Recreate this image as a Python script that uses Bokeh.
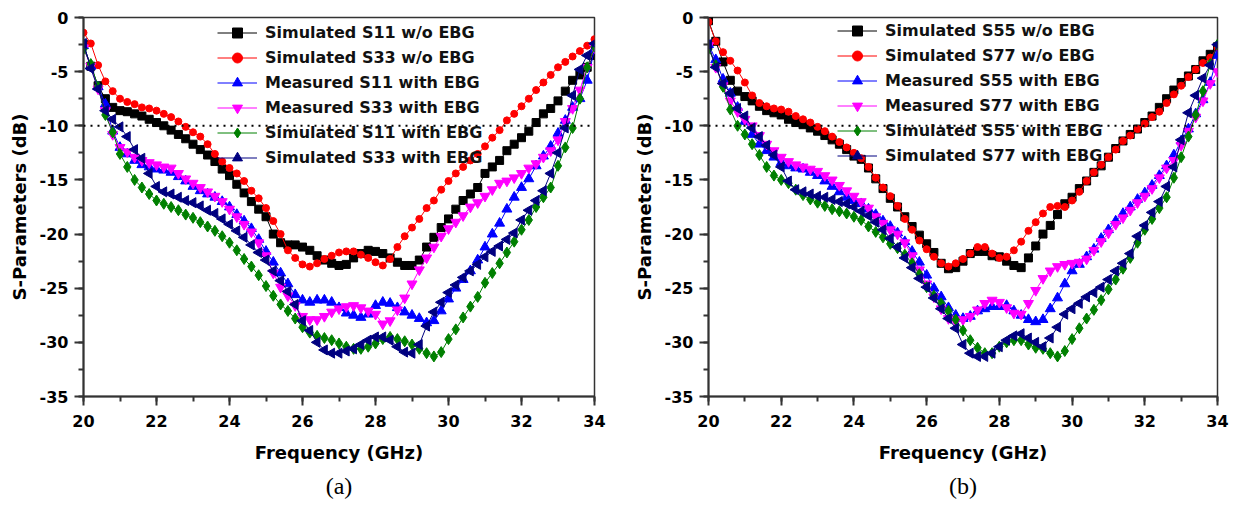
import math
from bokeh.plotting import figure
from bokeh.layouts import row
from bokeh.models import Range1d, SingleIntervalTicker, Span, Title, CustomJSTickFormatter
from bokeh.embed import file_html
from bokeh.resources import INLINE

freq = [20.0, 20.2, 20.4, 20.6, 20.8, 21.0, 21.2, 21.4, 21.6, 21.8,
        22.0, 22.2, 22.4, 22.6, 22.8, 23.0, 23.2, 23.4, 23.6, 23.8,
        24.0, 24.2, 24.4, 24.6, 24.8, 25.0, 25.2, 25.4, 25.6, 25.8,
        26.0, 26.2, 26.4, 26.6, 26.8, 27.0, 27.2, 27.4, 27.6, 27.8,
        28.0, 28.2, 28.4, 28.6, 28.8, 29.0, 29.2, 29.4, 29.6, 29.8,
        30.0, 30.2, 30.4, 30.6, 30.8, 31.0, 31.2, 31.4, 31.6, 31.8,
        32.0, 32.2, 32.4, 32.6, 32.8, 33.0, 33.2, 33.4, 33.6, 33.8,
        34.0]

# ---------------- panel (a) ----------------
a_sim_s11_wo = [-2.5, -4.5, -6.3, -7.5, -8.3, -8.6, -8.7, -8.9, -9.1, -9.4,
                -9.7, -10.0, -10.4, -10.8, -11.2, -11.7, -12.2, -12.7, -13.3, -14.0,
                -14.6, -15.4, -16.2, -17.0, -17.7, -18.4, -20.0, -20.8, -21.0, -21.0,
                -21.2, -21.5, -22.0, -22.4, -22.7, -22.9, -22.8, -22.2, -21.8, -21.5,
                -21.6, -21.8, -22.2, -22.6, -22.9, -22.9, -22.4, -21.2, -20.3, -19.4,
                -18.6, -17.7, -16.9, -16.3, -15.7, -14.4, -13.8, -13.2, -12.3, -11.7,
                -11.1, -10.5, -9.7, -8.9, -8.4, -7.7, -6.8, -5.8, -5.3, -4.6,
                -3.5]
a_sim_s33_wo = [-1.4, -2.4, -4.4, -5.9, -6.8, -7.5, -7.8, -8.0, -8.3, -8.4,
                -8.6, -8.9, -9.2, -9.6, -10.1, -10.6, -11.0, -11.7, -12.6, -13.3,
                -13.9, -14.4, -15.1, -16.0, -16.7, -17.6, -18.8, -20.0, -21.5, -22.2,
                -22.8, -23.0, -22.7, -22.3, -22.0, -21.7, -21.6, -21.6, -21.9, -22.2,
                -22.6, -22.9, -22.3, -21.2, -20.2, -19.4, -18.6, -17.6, -16.9, -15.9,
                -15.1, -14.4, -13.8, -13.2, -12.6, -11.9, -11.1, -10.4, -9.5, -8.9,
                -8.2, -7.5, -6.7, -6.0, -5.3, -4.6, -4.1, -3.6, -3.1, -2.6,
                -2.0]
a_meas_s11_ebg = [-2.6, -4.5, -6.4, -8.0, -10.5, -12.0, -12.6, -13.2, -13.6, -13.8,
                  -14.0, -14.1, -14.3, -14.7, -15.1, -15.6, -16.0, -16.3, -16.6, -17.0,
                  -17.5, -18.2, -18.8, -19.5, -20.5, -21.6, -22.6, -23.6, -24.6, -25.6,
                  -26.1, -26.3, -26.1, -26.1, -26.3, -26.8, -27.3, -27.5, -27.7, -27.4,
                  -26.6, -26.3, -26.4, -26.8, -27.2, -27.5, -27.8, -28.2, -28.0, -27.1,
                  -26.0, -25.0, -24.2, -23.4, -22.4, -21.2, -20.0, -19.0, -17.7, -16.6,
                  -15.7, -14.9, -13.7, -12.8, -11.9, -10.7, -9.5, -8.3, -7.5, -5.8,
                  -3.0]
a_meas_s33_ebg = [-2.8, -4.5, -6.6, -8.6, -10.8, -12.0, -12.4, -12.9, -13.2, -13.4,
                  -13.6, -13.8, -13.9, -14.4, -14.9, -15.3, -15.7, -16.1, -16.5, -17.0,
                  -17.7, -18.4, -19.1, -19.8, -20.8, -22.0, -23.6, -24.9, -25.7, -26.6,
                  -27.6, -27.9, -27.9, -27.6, -27.2, -26.9, -26.7, -26.6, -26.8, -27.1,
                  -27.4, -28.3, -28.0, -27.0, -25.9, -24.6, -23.3, -22.2, -21.2, -20.2,
                  -19.5, -18.9, -18.3, -17.5, -17.1, -16.5, -15.9, -15.3, -15.1, -14.8,
                  -14.4, -13.9, -13.5, -12.9, -12.3, -11.3, -9.6, -8.4, -6.7, -4.6,
                  -2.8]
a_sim_s11_ebg = [-2.9, -4.3, -6.4, -9.0, -10.6, -12.6, -13.8, -15.0, -15.7, -16.3,
                 -16.9, -17.2, -17.5, -17.8, -18.2, -18.5, -18.9, -19.3, -19.7, -20.2,
                 -20.8, -21.5, -22.3, -23.0, -23.8, -24.8, -25.7, -26.5, -27.1, -27.8,
                 -28.6, -29.1, -29.4, -29.6, -29.8, -30.1, -30.4, -30.6, -30.6, -30.4,
                 -30.1, -29.7, -29.5, -29.7, -29.9, -30.2, -30.6, -31.0, -31.3, -30.9,
                 -29.7, -28.8, -27.7, -26.7, -25.8, -24.5, -23.6, -22.7, -21.7, -20.7,
                 -19.6, -18.7, -17.5, -16.6, -15.7, -13.7, -12.0, -10.2, -7.5, -4.6,
                 -2.7]
a_sim_s33_ebg = [-2.4, -4.7, -6.6, -8.6, -9.4, -10.1, -11.0, -12.2, -13.0, -14.4,
                 -15.6, -16.1, -16.3, -16.6, -16.9, -17.1, -17.4, -17.8, -18.1, -18.6,
                 -19.1, -19.7, -20.3, -21.0, -21.7, -22.4, -23.4, -24.3, -25.3, -26.5,
                 -28.0, -28.9, -30.0, -30.7, -31.0, -31.0, -30.8, -30.6, -30.2, -29.8,
                 -29.5, -29.5, -29.8, -30.4, -30.9, -31.0, -30.2, -28.5, -27.2, -26.3,
                 -25.4, -24.7, -24.0, -23.4, -22.8, -22.1, -21.6, -21.1, -20.5, -19.9,
                 -18.7, -17.8, -16.9, -16.0, -14.4, -12.5, -10.2, -7.2, -4.8, -3.5,
                 -2.4]

# ---------------- panel (b) ----------------
b_sim_s55_wo = [-0.3, -2.2, -4.1, -5.8, -6.8, -7.3, -7.7, -8.2, -8.6, -8.8,
                -9.0, -9.4, -9.7, -9.9, -10.2, -10.5, -10.9, -11.3, -11.7, -12.2,
                -12.8, -13.1, -13.9, -14.9, -15.8, -16.7, -17.5, -18.4, -19.3, -20.1,
                -20.9, -21.7, -22.7, -23.2, -23.1, -22.5, -21.8, -21.6, -21.6, -22.0,
                -22.1, -22.5, -22.9, -23.1, -22.2, -21.1, -20.0, -19.2, -18.2, -17.2,
                -16.6, -15.8, -15.1, -14.3, -13.7, -12.9, -12.1, -11.4, -10.8, -10.3,
                -9.7, -9.1, -8.3, -7.5, -6.7, -6.0, -5.4, -4.8, -4.0, -3.4,
                -2.7]
b_sim_s77_wo = [-0.4, -2.2, -3.2, -4.0, -4.9, -6.0, -7.2, -7.9, -8.2, -8.4,
                -8.5, -8.7, -9.1, -9.4, -9.7, -10.1, -10.5, -11.0, -11.5, -12.0,
                -12.5, -13.0, -13.8, -14.8, -15.7, -16.5, -17.4, -18.6, -19.6, -20.6,
                -21.4, -22.1, -22.7, -23.0, -22.7, -22.3, -21.8, -21.2, -21.2, -21.8,
                -22.2, -22.1, -21.5, -20.7, -19.7, -18.9, -18.1, -17.5, -17.4, -17.5,
                -16.9, -16.1, -15.1, -14.3, -13.6, -12.9, -12.2, -11.4, -10.9, -10.3,
                -9.8, -9.2, -8.7, -7.9, -7.1, -6.3, -5.5, -4.8, -4.2, -3.7,
                -2.8]
b_meas_s55_ebg = [-2.5, -3.9, -5.7, -7.0, -8.3, -9.6, -10.8, -11.7, -12.3, -12.9,
                  -13.4, -13.7, -13.9, -14.0, -14.3, -14.6, -15.1, -15.6, -16.1, -16.6,
                  -16.9, -17.2, -17.7, -18.2, -18.8, -19.3, -19.9, -20.7, -21.6, -22.6,
                  -23.8, -25.0, -25.8, -26.8, -27.5, -27.8, -27.6, -27.1, -26.9, -26.7,
                  -26.7, -26.6, -27.1, -27.5, -27.9, -28.1, -27.9, -26.9, -25.9, -24.6,
                  -23.4, -22.8, -22.1, -21.4, -20.4, -19.6, -18.8, -18.1, -17.5, -16.8,
                  -16.2, -15.5, -14.6, -13.7, -12.7, -11.4, -10.3, -8.9, -7.6, -6.0,
                  -3.5]
b_meas_s77_ebg = [-2.6, -4.6, -6.3, -7.7, -8.7, -9.4, -10.0, -10.9, -11.7, -12.3,
                  -12.9, -13.3, -13.6, -13.8, -14.0, -14.2, -14.6, -15.0, -15.5, -16.0,
                  -16.5, -17.0, -17.6, -18.4, -19.0, -19.6, -20.0, -20.8, -22.0, -23.3,
                  -24.6, -25.8, -26.9, -27.8, -28.1, -27.9, -27.6, -27.0, -26.4, -26.1,
                  -26.3, -26.8, -27.3, -27.4, -26.4, -25.2, -24.1, -23.4, -23.0, -22.8,
                  -22.7, -22.6, -22.3, -21.5, -20.7, -19.9, -19.1, -18.5, -17.8, -17.1,
                  -16.5, -15.8, -14.8, -13.9, -13.2, -11.8, -10.5, -9.2, -7.7, -6.1,
                  -5.0]
b_sim_s55_ebg = [-2.9, -4.4, -6.4, -8.5, -10.0, -10.8, -11.7, -12.7, -13.8, -14.6,
                 -15.0, -15.3, -15.9, -16.4, -16.8, -17.1, -17.4, -17.7, -17.9, -18.1,
                 -18.4, -18.7, -19.3, -19.8, -20.3, -20.9, -21.3, -21.9, -22.7, -23.7,
                 -24.9, -25.7, -26.4, -27.1, -27.9, -28.9, -29.8, -30.5, -31.0, -31.0,
                 -30.4, -30.0, -29.8, -29.8, -30.2, -30.5, -30.6, -31.0, -31.3, -30.8,
                 -29.7, -28.7, -27.8, -27.0, -26.1, -25.1, -24.2, -23.2, -22.2, -20.8,
                 -19.6, -18.6, -17.6, -16.6, -14.8, -12.9, -11.0, -9.0, -6.8, -4.3,
                 -2.5]
b_sim_s77_ebg = [-2.5, -4.6, -6.1, -7.0, -8.4, -9.1, -10.2, -11.0, -11.8, -12.7,
                 -13.8, -15.1, -15.9, -16.1, -16.3, -16.5, -16.6, -16.8, -17.0, -17.2,
                 -17.5, -17.9, -18.3, -18.9, -19.6, -20.4, -21.2, -22.2, -23.1, -24.1,
                 -24.9, -25.9, -26.9, -27.8, -28.7, -30.2, -31.0, -31.3, -31.3, -31.0,
                 -30.4, -29.8, -29.4, -29.2, -29.6, -30.0, -30.4, -29.6, -28.6, -27.4,
                 -26.9, -26.4, -25.8, -25.4, -24.9, -24.2, -23.4, -22.7, -21.8, -20.2,
                 -19.2, -18.0, -17.0, -15.6, -13.8, -11.3, -8.8, -7.2, -5.6, -4.4,
                 -2.5]

labels_a = ["Simulated S11 w/o EBG", "Simulated S33 w/o EBG", "Measured S11 with EBG",
            "Measured S33 with EBG", "Simulated S11 with EBG", "Simulated S33 with EBG"]
labels_b = ["Simulated S55 w/o EBG", "Simulated S77 w/o EBG", "Measured S55 with EBG",
            "Measured S77 with EBG", "Simulated S55 with EBG", "Simulated S77 with EBG"]

series_a = [a_sim_s11_wo, a_sim_s33_wo, a_meas_s11_ebg, a_meas_s33_ebg, a_sim_s11_ebg, a_sim_s33_ebg]
series_b = [b_sim_s55_wo, b_sim_s77_wo, b_meas_s55_ebg, b_meas_s77_ebg, b_sim_s55_ebg, b_sim_s77_ebg]

colors = ["#000000", "#FF0000", "#0000FF", "#FF00FF", "#008000", "#000080"]
markers = ["square", "circle", "triangle", "inverted_triangle", "diamond", "triangle"]
angles = [0, 0, 0, 0, 0, math.pi / 2]
sizes = [8, 7, 10, 10, 11, 10]

FONT = "DejaVu Sans"


def make_panel(width, bl, br, bt, bb, series, labels, caption, legend_loc):
    p = figure(width=width, height=505, output_backend="svg", toolbar_location=None,
               x_range=Range1d(20, 34), y_range=Range1d(-35, 0),
               min_border_left=bl, min_border_right=br, min_border_top=bt, min_border_bottom=bb,
               x_axis_label="Frequency (GHz)", y_axis_label="S-Parameters (dB)")
    p.grid.visible = False
    p.outline_line_color = "#333333"
    p.outline_line_width = 1.5
    p.background_fill_color = "white"
    p.border_fill_color = "white"

    p.xaxis.ticker = SingleIntervalTicker(interval=2, num_minor_ticks=2)
    p.yaxis.ticker = SingleIntervalTicker(interval=5, num_minor_ticks=2)
    fmt = "return tick.toFixed(0);"
    p.xaxis.formatter = CustomJSTickFormatter(code=fmt)
    p.yaxis.formatter = CustomJSTickFormatter(code=fmt)
    for ax in (p.xaxis, p.yaxis):
        ax.axis_line_width = 2
        ax.axis_line_color = "#333333"
        ax.major_tick_in = 0
        ax.major_tick_out = 9
        ax.minor_tick_in = 0
        ax.minor_tick_out = 5
        ax.major_tick_line_width = 2
        ax.minor_tick_line_width = 2
        ax.major_tick_line_color = "#333333"
        ax.minor_tick_line_color = "#333333"
        ax.major_label_text_font = FONT
        ax.major_label_text_font_size = "16px"
        ax.major_label_text_font_style = "bold"
        ax.major_label_text_color = "black"
        ax.axis_label_text_font = FONT
        ax.axis_label_text_font_size = "18px"
        ax.axis_label_text_font_style = "bold"
        ax.axis_label_text_color = "black"
    p.xaxis.major_label_standoff = 9
    p.yaxis.major_label_standoff = 6
    p.xaxis.axis_label_standoff = 12
    p.yaxis.axis_label_standoff = 7

    p.add_layout(Span(location=-10, dimension="width", line_color="black",
                      line_dash="2 5", line_width=2))

    for ys, lab, c, m, a, s in zip(series, labels, colors, markers, angles, sizes):
        p.line(freq, ys, line_color=c, line_width=1, legend_label=lab)
        p.scatter(freq, ys, marker=m, angle=a, size=s, fill_color=c, line_color=c,
                  legend_label=lab)

    lg = p.legend[0]
    lg.location = legend_loc
    lg.label_text_font = FONT
    lg.label_text_font_size = "16px"
    lg.label_text_font_style = "bold"
    lg.label_text_color = "#111111"
    lg.glyph_width = 40
    lg.glyph_height = 25
    lg.label_height = 25
    lg.label_standoff = 8
    lg.spacing = 0
    lg.padding = 0
    lg.margin = 0
    lg.border_line_color = None
    lg.background_fill_alpha = 0

    p.add_layout(Title(text=caption, align="center", text_font="Liberation Serif",
                       text_font_size="24px", text_font_style="normal", text_color="black"),
                 "below")
    return p


pa = make_panel(620, 83, 26, 17, 109, series_a, labels_a, "(a)", (134, 226))
pb = make_panel(614, 88, 17, 16, 108, series_b, labels_b, "(b)", (129, 228))

layout = row(pa, pb)
open("out.html", "w").write(file_html(layout, INLINE))
